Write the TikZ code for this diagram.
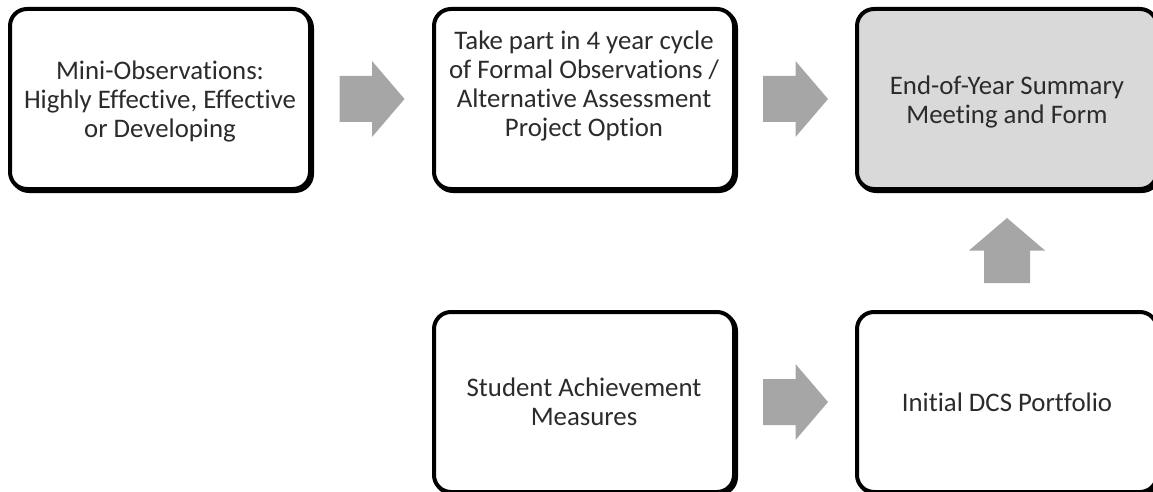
\documentclass[tikz,border=0pt]{standalone}
\usepackage{fontspec}
\setmainfont{Carlito}[Ligatures={NoCommon}]
\usetikzlibrary{calc,shadows}
\definecolor{arrowgray}{HTML}{A6A6A6}
\definecolor{boxgray}{HTML}{D9D9D9}
\definecolor{textgray}{HTML}{2B2B2B}
\tikzset{
  stepbox/.style={draw=black, line width=4pt, rounded corners=17pt, fill=white,
    minimum width=300pt, minimum height=180pt, inner sep=0pt, align=center,
    text=textgray, font=\fontsize{26.8}{29}\selectfont,
    drop shadow={shadow xshift=2pt, shadow yshift=-2pt, opacity=1,
      fill=black, draw=black, line width=4pt}},
  finalbox/.style={stepbox, fill=boxgray},
  steptext/.style={inner sep=0pt, align=center, text=textgray,
    font=\fontsize{26.8}{29}\selectfont},
  pics/blockarrow/.style={code={
    \fill[arrowgray] (-32.5,-23) -- (0,-23) -- (0,-38) -- (32.5,0)
      -- (0,38) -- (0,23) -- (-32.5,23) -- cycle;}}
}
\begin{document}
\begin{tikzpicture}[x=1pt, y=-1pt]
  \useasboundingbox (0,0) rectangle (1153,492);
  \clip (0,0) rectangle (1153,492);
  \fill[white] (0,0) rectangle (1153,492);

  % process steps
  \node[stepbox]  (mini)    at (160,99)  {};
  \node[stepbox]  (formal)  at (584,99)  {};
  \node[finalbox] (summary) at (1007,99) {};
  \node[stepbox]  (student) at (584,402) {Student Achievement\\Measures};
  \node[stepbox]  (dcs)     at (1007,402) {Initial DCS Portfolio};

  % step texts
  \node[steptext] (minitext)    at ($(mini.center)+(0,2)$)
    {Mini-Observations:\\Highly Effective, Effective\\or Developing};
  \node[steptext] (formaltext)  at ($(formal.center)+(0,-13)$)
    {Take part in 4 year cycle\\of Formal Observations /\\Alternative Assessment\\Project Option};
  \node[steptext] (summarytext) at ($(summary.center)+(0,3)$)
    {End-of-Year Summary\\Meeting and Form};

  % block arrows between the steps
  \pic at ($(mini.east)!0.5!(formal.west)$) {blockarrow};
  \pic at ($(formal.east)!0.5!(summary.west)$) {blockarrow};
  \pic at ($(student.east)!0.5!(dcs.west)$) {blockarrow};
  \pic[rotate=90] at ($(dcs.north)!0.5!(summary.south)$) {blockarrow};
\end{tikzpicture}
\end{document}
